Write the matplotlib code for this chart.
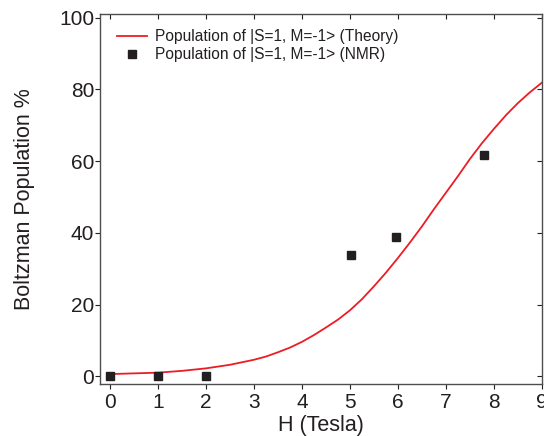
import matplotlib
matplotlib.use("Agg")
import matplotlib.pyplot as plt

# theory curve
field_theory = [0.0, 0.5, 1.0, 1.5, 2.0, 2.5, 3.0, 3.25, 3.5, 3.75,
                4.0, 4.25, 4.5, 4.75, 5.0, 5.25, 5.5, 5.75, 6.0, 6.25,
                6.5, 6.75, 7.0, 7.25, 7.5, 7.75, 8.0, 8.25, 8.5, 8.75, 9.0]
pop_theory = [0.6, 0.8, 1.0, 1.5, 2.2, 3.2, 4.6, 5.5, 6.7, 8.0,
              9.6, 11.5, 13.6, 15.8, 18.4, 21.5, 25.1, 28.9, 33.0, 37.3,
              41.8, 46.6, 51.2, 55.8, 60.6, 65.0, 69.0, 72.8, 76.2, 79.2, 81.9]

# NMR points
field_nmr = [0.0, 1.0, 2.0, 5.03, 5.95, 7.8]
pop_nmr = [0.0, 0.0, 0.0, 33.8, 38.9, 61.6]

text_color = "#231f20"
plt.rcParams["font.family"] = ["Liberation Sans", "DejaVu Sans"]

fig = plt.figure(figsize=(5.44, 4.36), dpi=100)
ax = fig.add_axes([0.184, 0.119, 0.812, 0.850])

ax.plot(field_theory, pop_theory, color="#ed1c24", lw=1.3,
        label="Population of |S=1, M=-1> (Theory)")
ax.plot(field_nmr, pop_nmr, ls="none", marker="s", ms=5.3, color=text_color,
        label="Population of |S=1, M=-1> (NMR)")

ax.set_xlim(-0.21, 9.0)
ax.set_ylim(-2.2, 101.2)
ax.set_xticks(range(0, 10))
ax.set_yticks(range(0, 101, 20))

ax.set_xlabel("H (Tesla)", fontsize=15.5, color=text_color, labelpad=2)
ax.set_ylabel("Boltzman Population %", fontsize=15.5, color=text_color, labelpad=17)

ax.tick_params(axis="both", labelsize=15, colors=text_color, length=3.3, width=0.8)
ax.tick_params(axis="y", pad=1)
ax.tick_params(axis="x", pad=3)
ax.tick_params(top=True, right=True, labeltop=False, labelright=False)
for t in ax.xaxis.get_major_ticks():
    t.tick2line.set_marker(3)  # top ticks point inward
for t in ax.yaxis.get_major_ticks():
    t.tick2line.set_marker(0)  # right ticks point inward
for s in ax.spines.values():
    s.set_color("#4d4d4f")
    s.set_linewidth(1.0)

ax.legend(loc="upper left", bbox_to_anchor=(0.025, 0.975), frameon=False,
          fontsize=11.2, handlelength=1.9, handletextpad=0.55,
          labelspacing=0.2, borderaxespad=0, labelcolor=text_color)

fig.savefig("out.png", dpi=100)
